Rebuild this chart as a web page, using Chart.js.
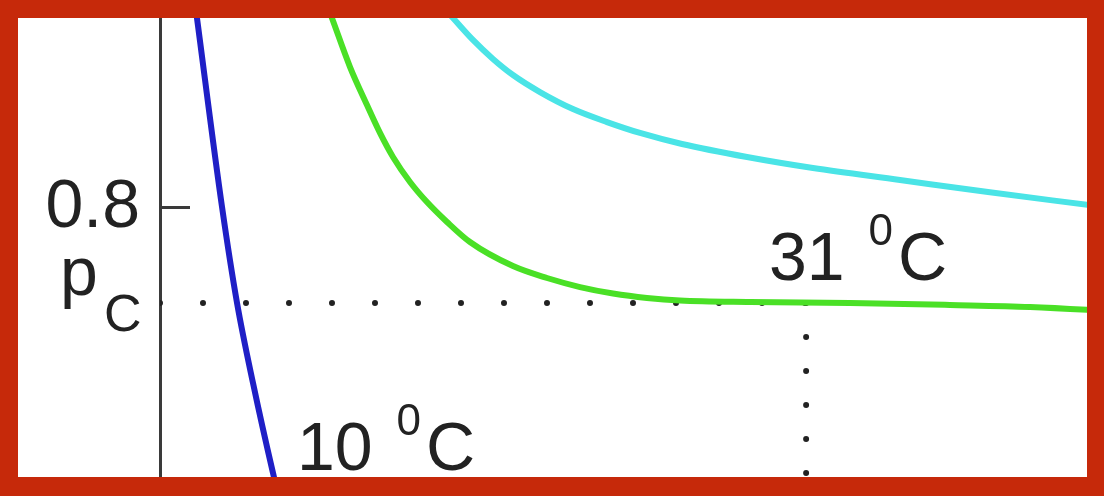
<!DOCTYPE html>
<html>
<head>
<meta charset="utf-8">
<script src="https://cdn.jsdelivr.net/npm/chart.js@4.4.1/dist/chart.umd.min.js"></script>
<style>
  html, body { margin: 0; padding: 0; background: #c6290a; }
  #marco { position: absolute; left: 18px; top: 18px; width: 1069px; height: 459px; background: #fff; overflow: hidden; }
  canvas { display: block; }
</style>
</head>
<body>
<div id="marco"><canvas id="isotermas" width="1069" height="459"></canvas></div>
<script>
// Presion critica y volumen critico (unidades de la figura)
const PC = 0.738;
const VC = 6.97;
const yTicks = [0.8];

// Isoterma 10 C (azul)
const v10 = [0.345, 0.399, 0.669, 0.831, 1.003, 1.219, 1.316];
const p10 = [0.9488, 0.9240, 0.8007, 0.7380, 0.6858, 0.6270, 0.6029];

// Isoterma 31 C (verde, critica)
const v31 = [1.704, 1.855, 2.050, 2.233, 2.373, 2.513, 2.697, 2.880, 3.096, 3.344, 3.808, 4.175, 4.531, 4.887, 5.253, 5.609, 6.365, 7.443, 8.522, 9.385, 10.032, 10.356];
const p31 = [0.9488, 0.9240, 0.8920, 0.8672, 0.8490, 0.8333, 0.8170, 0.8039, 0.7909, 0.7778, 0.7621, 0.7543, 0.7484, 0.7442, 0.7413, 0.7396, 0.7386, 0.7380, 0.7367, 0.7354, 0.7334, 0.7321];

// Isoterma superior (cian)
const vAlta = [2.794, 3.161, 3.376, 3.592, 3.808, 4.099, 4.455, 4.822, 5.178, 5.631, 6.332, 7.044, 7.983, 8.932, 10.011, 10.356];
const pAlta = [0.9488, 0.9240, 0.9097, 0.8973, 0.8868, 0.8757, 0.8646, 0.8561, 0.8490, 0.8418, 0.8333, 0.8261, 0.8183, 0.8104, 0.8020, 0.7993];

// Rotulos de temperatura
const rotulos = [
    { texto: '31', v: 6.57, p: 0.753 },
    { texto: '10', v: 1.478, p: 0.629 }
];

const FUENTE = '"Liberation Sans", Arial, sans-serif';

function puntos(v, p) {
    return v.map((x, i) => ({ x: x, y: p[i] }));
}

function curva(v, p, color) {
    return {
        data: puntos(v, p),
        borderColor: color,
        borderWidth: 6,
        pointRadius: 0,
        cubicInterpolationMode: 'monotone',
        fill: false
    };
}

function punteada(data, paso) {
    return {
        data: data,
        borderColor: '#222',
        borderWidth: 6,
        borderDash: [0, paso],
        borderCapStyle: 'round',
        pointRadius: 0,
        fill: false
    };
}

const textos = {
    id: 'textos',
    afterDraw(chart) {
        const { ctx, scales: { x, y } } = chart;
        ctx.save();
        ctx.fillStyle = '#222';
        ctx.textBaseline = 'alphabetic';
        ctx.textAlign = 'left';

        // p sub c junto al eje
        const yPc = y.getPixelForValue(PC);
        ctx.font = '68px ' + FUENTE;
        ctx.fillText('p', x.left - 100, yPc - 8);
        ctx.font = '52px ' + FUENTE;
        ctx.fillText('C', x.left - 56, yPc + 28);

        rotulos.forEach(r => {
            let px = x.getPixelForValue(r.v);
            const py = y.getPixelForValue(r.p);
            ctx.font = '68px ' + FUENTE;
            ctx.fillText(r.texto, px, py);
            px += ctx.measureText(r.texto + ' ').width + 5;
            ctx.font = '44px ' + FUENTE;
            ctx.fillText('0', px, py - 35);
            px += ctx.measureText('0').width + 5;
            ctx.font = '68px ' + FUENTE;
            ctx.fillText('C', px, py);
        });
        ctx.restore();
    }
};

new Chart(document.getElementById('isotermas'), {
    type: 'line',
    data: {
        datasets: [
            curva(v10, p10, '#1f1fc6'),
            curva(v31, p31, '#4ae026'),
            curva(vAlta, pAlta, '#4ae4e6'),
            punteada([{ x: 0, y: PC }, { x: VC, y: PC }], 43),
            punteada([{ x: VC, y: PC }, { x: VC, y: 0.6 }], 34)
        ]
    },
    options: {
        responsive: false,
        animation: false,
        layout: { padding: 0 },
        plugins: { legend: { display: false }, tooltip: { enabled: false } },
        scales: {
            x: { type: 'linear', min: 0, max: 10, display: false },
            y: {
                type: 'linear',
                min: 0.62441,
                max: 0.92402,
                afterBuildTicks: s => { s.ticks = yTicks.map(value => ({ value })); },
                afterFit: s => { s.width = 142; s.paddingTop = 0; s.paddingBottom = 0; },
                grid: { drawOnChartArea: false, tickLength: -30, tickWidth: 3, tickColor: '#3a3a3a' },
                border: { color: '#3a3a3a', width: 3 },
                ticks: {
                    padding: 50,
                    color: '#222',
                    font: { size: 68, family: FUENTE },
                    callback: v => v.toFixed(1)
                }
            }
        }
    },
    plugins: [textos]
});
</script>
</body>
</html>
